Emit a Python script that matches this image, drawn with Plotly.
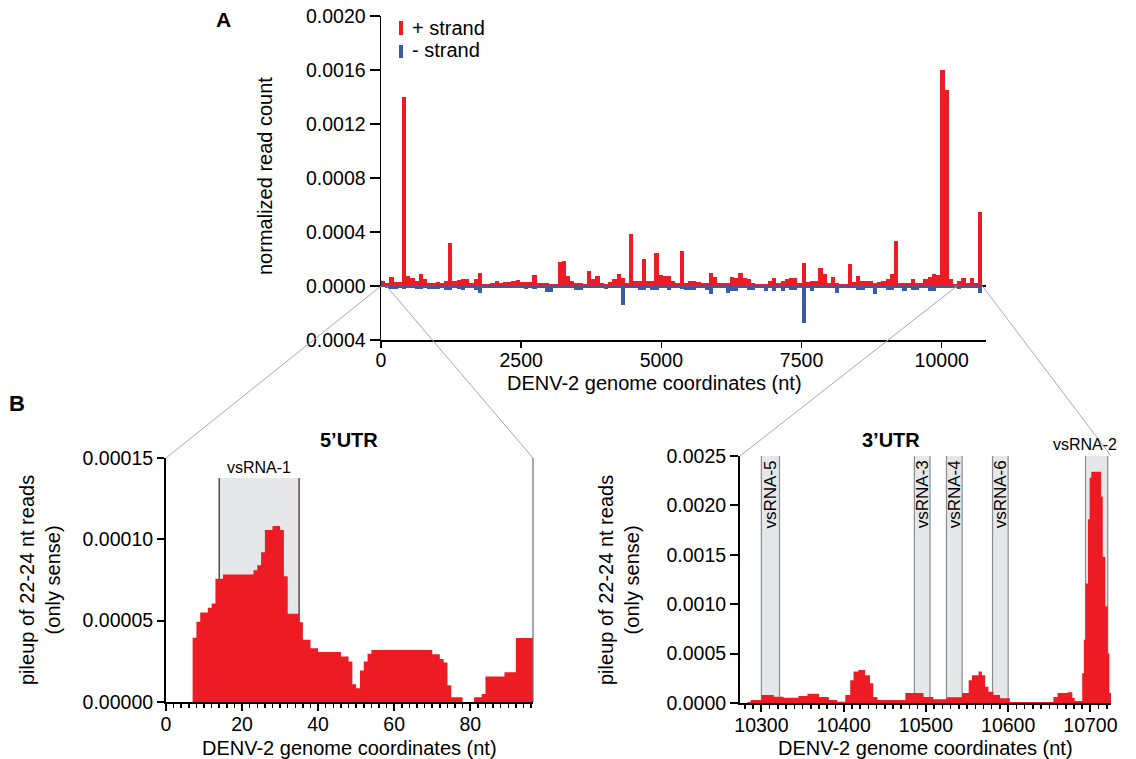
import numpy as np
import plotly.graph_objects as go

W, H = 1136, 759
PAGE_OFFSET = 0  # body margin removed by post_script below
RED = "#ed1c24"
BLUE = "#3b5ba9"
BOXGREY = "#e6e7e8"
FONT = "Liberation Sans, Arial, sans-serif"

# ---------------- Panel A: normalized read count, 75-nt bins ----------------
bin_width_nt = 75
# values in units of 1e-5
plus_strand_1e5 = [
    4, 2.4, 6.8, 2.9, 2.9, 140, 7.2, 6, 3.9, 9,
    4.9, 2.5, 2.5, 2.9, 2, 3.6, 32, 3.6, 4.2, 4.9,
    4.9, 2.5, 5.4, 10, 1.2, 1.2, 2.5, 4, 2.5, 2.9,
    2.9, 3.6, 4.2, 2.9, 2.9, 2.9, 8, 2, 2.5, 2.5,
    1.8, 1.2, 17.5, 18.3, 7.2, 3.6, 2, 2, 1.8, 11,
    4.9, 7.4, 2, 1.8, 2.9, 5.4, 8.6, 6, 2.5, 38.5,
    3.6, 4, 20, 4, 4, 24.7, 8, 7.4, 7.4, 4,
    2.5, 26, 2, 3.5, 3.5, 3, 2.5, 2, 10, 6.5,
    2, 2, 2.5, 6.5, 6, 10, 5.8, 5, 2.5, 1.8,
    1.2, 1.2, 4, 6, 2.5, 3.5, 5, 6, 6, 2,
    17, 3, 4, 4, 13, 9, 2.5, 6.5, 2, 1.2,
    1.2, 16, 3, 7.5, 4, 3.5, 3.5, 2.5, 3, 3.5,
    5.4, 9, 33, 2, 2.5, 2.5, 5.4, 2, 2.5, 5,
    6.5, 9, 8, 160, 145, 5, 1.2, 3.5, 5.8, 2.5,
    5.8, 2.5, 55,
]
minus_strand_1e5 = [
    -1, -1.2, -2, -2, -1.2, -2, -1.2, -1.2, -2.5, -2.5,
    -1.2, -2, -2, -2, -1.2, -3.2, -3.2, -1.2, -2.5, -3,
    -1.2, -1.5, -3, -5.4, -1.2, -1.2, -1.5, -1.2, -1.5, -1.2,
    -1.5, -1.2, -1.5, -1.2, -2.5, -1.2, -2.5, -1.2, -1.5, -4.4,
    -4.4, -1.5, -1.2, -1.5, -1.2, -1.5, -3, -3, -1.2, -1.5,
    -1.2, -1.5, -1.2, -2.5, -1.2, -1.5, -1.2, -14, -1.5, -1.2,
    -1.5, -3, -3, -1.2, -3, -3, -1.2, -1.5, -3, -1.2,
    -1.5, -2.5, -3, -3, -3, -1.2, -1.5, -3, -6, -1.5,
    -1.2, -1.5, -5, -4, -4, -1.2, -1.5, -3, -3, -1.2,
    -1.5, -3.5, -1.2, -4, -1.2, -3.5, -1.2, -3, -3, -1.2,
    -27.6, -1.5, -3.5, -1.2, -1.5, -1.2, -1.5, -1.2, -5, -1.2,
    -1.5, -1.2, -1.5, -3, -3, -1.2, -1.5, -6, -1.2, -1.5,
    -3, -3, -1.2, -1.5, -3.5, -1.2, -3, -3, -1.2, -1.5,
    -4, -4, -1.2, -1.5, -1.2, -1.5, -1.2, -2, -1.2, -1.5,
    -1.2, -1.5, -5.4,
]
genome_ticks = [0, 2500, 5000, 7500, 10000]
a_yticks = [-0.0004, 0.0, 0.0004, 0.0008, 0.0012, 0.0016, 0.0020]
a_yticktext = ["0.0004", "0.0000", "0.0004", "0.0008", "0.0012", "0.0016", "0.0020"]

# ---------------- Panel B left: 5'UTR pileup (units 1e-5) ----------------
utr5_pos = list(range(1, 97))
utr5_pileup_1e5 = [
    0, 0, 0, 0, 0, 0,
    3.95, 4.94, 5.5, 5.5, 5.8, 6.05, 7.57, 7.57,
    7.84, 7.84, 7.84, 7.84, 7.84, 7.84, 7.84, 7.84,
    8.1, 8.4, 9.2, 10.57, 10.57, 10.82, 10.82, 10.57, 7.73,
    5.43, 5.43, 5.43, 4.9, 3.83, 3.83, 3.31, 3.31,
    3.07, 3.07, 3.07, 3.07, 3.07, 3.07,
    2.8, 2.8, 2.49, 1.09, 0.85, 1.93, 2.49, 2.96,
    3.2, 3.2, 3.2, 3.2, 3.2, 3.2, 3.2, 3.2, 3.2, 3.2, 3.2, 3.2, 3.2, 3.2, 3.2, 3.2,
    2.94, 2.94, 2.65, 2.43, 1.03, 0.29, 0.29, 0.29,
    0, 0, 0, 0.29, 0.29, 0.49,
    1.56, 1.56, 1.56, 1.56, 1.56,
    1.83, 1.83, 1.83,
    3.93, 3.93, 3.93, 3.93, 3.93,
]
utr5_xticks = [0, 20, 40, 60, 80]
utr5_yticks = [0, 0.00005, 0.00010, 0.00015]
utr5_yticktext = ["0.00000", "0.00005", "0.00010", "0.00015"]
vsrna1_name, vsrna1_start, vsrna1_end, vsrna1_top = "vsRNA-1", 14, 35, 0.0001377

# ---------------- Panel B right: 3'UTR pileup (units 1e-4) ----------------
utr3_pos = [10274, 10283, 10287, 10300, 10315, 10327, 10345, 10356, 10370, 10382,
            10392, 10402, 10408, 10412, 10418, 10426, 10432, 10436, 10441, 10475,
            10497, 10509, 10525, 10544, 10552, 10556, 10564, 10568, 10572, 10576,
            10582, 10590, 10602, 10655, 10660, 10672, 10678, 10681, 10690, 10692,
            10694, 10697, 10699, 10701, 10713, 10715, 10718, 10721, 10723, 10725]
utr3_pileup_1e4 = [0, 0.1, 0.3, 0.8, 0.64, 0.54, 0.7, 0.94, 0.6, 0.3,
                   0.13, 0.8, 2.3, 3.2, 3.35, 2.8, 2.0, 0.6, 0.3, 1.0,
                   0.6, 0.37, 0.58, 1.0, 2.3, 2.8, 3.2, 2.8, 1.65, 1.15,
                   0.8, 0.47, 0.1, 0.6, 1.0, 1.1, 0.5, 0.2, 3.0, 6.4,
                   12.1, 18.6, 22.8, 23.4, 20.9, 14.8, 9.8, 5.0, 1.0, 0]
utr3_xticks = [10300, 10400, 10500, 10600, 10700]
utr3_yticks = [0, 0.0005, 0.0010, 0.0015, 0.0020, 0.0025]
utr3_yticktext = ["0.0000", "0.0005", "0.0010", "0.0015", "0.0020", "0.0025"]
utr3_vsrna_names = ["vsRNA-5", "vsRNA-3", "vsRNA-4", "vsRNA-6", "vsRNA-2"]
utr3_vsrna_start = [10300, 10486, 10525, 10581, 10694]
utr3_vsrna_end = [10322, 10505, 10544, 10600, 10721]

# ---------------- layout geometry (screen pixels -> paper) ----------------
def px(x):
    return (x - PAGE_OFFSET) / W

def py(y):
    return 1 - (y - PAGE_OFFSET) / H

A_dom_x = [px(381), px(986)]
A_dom_y = [py(340), py(16)]
A_rng_x = [0, 10790]
A_rng_y = [-0.0004, 0.0020]
L_dom_x = [px(166), px(533)]
L_dom_y = [py(702), py(458)]
L_rng_x = [0, 96.5]
L_rng_y = [0, 0.00015]
R_dom_x = [px(740), px(1111)]
R_dom_y = [py(703), py(456)]
R_rng_x = [10274, 10725]
R_rng_y = [0, 0.0025]


def to_paper(v, dom, rng):
    return dom[0] + (v - rng[0]) / (rng[1] - rng[0]) * (dom[1] - dom[0])


fig = go.Figure()

centers = np.arange(len(plus_strand_1e5)) * bin_width_nt + bin_width_nt / 2
fig.add_trace(go.Bar(x=centers, y=np.array(plus_strand_1e5) * 1e-5, width=bin_width_nt,
                     marker=dict(color=RED, line=dict(width=0)), xaxis="x", yaxis="y",
                     name="+ strand"))
fig.add_trace(go.Bar(x=centers, y=np.array(minus_strand_1e5) * 1e-5, width=bin_width_nt,
                     marker=dict(color=BLUE, line=dict(width=0)), xaxis="x", yaxis="y",
                     name="- strand"))

u5x = utr5_pos + [utr5_pos[-1] + 1]
u5y = [v * 1e-5 for v in utr5_pileup_1e5] + [utr5_pileup_1e5[-1] * 1e-5]
fig.add_trace(go.Scatter(x=u5x, y=u5y, mode="lines", line=dict(width=0, color=RED, shape="hv"),
                         fill="tozeroy", fillcolor=RED, xaxis="x2", yaxis="y2"))

fig.add_trace(go.Scatter(x=utr3_pos, y=[v * 1e-4 for v in utr3_pileup_1e4], mode="lines",
                         line=dict(width=0, color=RED, shape="hv"),
                         fill="tozeroy", fillcolor=RED, xaxis="x3", yaxis="y3"))

tickfont = dict(family=FONT, size=19.5, color="black")
common = dict(showgrid=False, showline=True, linecolor="black", ticks="outside",
              tickcolor="black", tickfont=tickfont, layer="above traces",
              autorange=False, fixedrange=True, automargin=False,
              ticklabeloverflow="allow")

layout_axes = dict(
    xaxis=dict(domain=A_dom_x, range=A_rng_x, anchor="y", tickvals=genome_ticks,
               ticktext=[str(t) for t in genome_ticks], linewidth=1.5, tickwidth=1.5,
               ticklen=6, ticklabelstandoff=-4, zeroline=False, **common),
    yaxis=dict(domain=A_dom_y, range=A_rng_y, anchor="x", tickvals=a_yticks,
               ticktext=a_yticktext, linewidth=1.5, tickwidth=1.5, ticklen=10,
               zeroline=True, zerolinecolor="black", zerolinewidth=1.5, **common),
    xaxis2=dict(domain=L_dom_x, range=L_rng_x, anchor="y2", tickvals=utr5_xticks,
                ticktext=[str(t) for t in utr5_xticks], linewidth=2, tickwidth=2, ticklen=7,
                ticklabelstandoff=-3, zeroline=False,
                minor=dict(dtick=2, tick0=0, ticks="outside", ticklen=4, tickwidth=1.5,
                           tickcolor="black"), **common),
    yaxis2=dict(domain=L_dom_y, range=L_rng_y, anchor="x2", tickvals=utr5_yticks,
                ticktext=utr5_yticktext, linewidth=2, tickwidth=2, ticklen=7,
                zeroline=False, **common),
    xaxis3=dict(domain=R_dom_x, range=R_rng_x, anchor="y3", tickvals=utr3_xticks,
                ticktext=[str(t) for t in utr3_xticks], linewidth=2, tickwidth=2, ticklen=7,
                ticklabelstandoff=-3, zeroline=False,
                minor=dict(dtick=10, tick0=10300, ticks="outside", ticklen=4, tickwidth=1.5,
                           tickcolor="black"), **common),
    yaxis3=dict(domain=R_dom_y, range=R_rng_y, anchor="x3", tickvals=utr3_yticks,
                ticktext=utr3_yticktext, linewidth=2, tickwidth=2, ticklen=8,
                zeroline=False, **common),
)

shapes = []
# vsRNA-1 box in 5'UTR panel
shapes.append(dict(type="rect", xref="x2", yref="y2", x0=vsrna1_start, x1=vsrna1_end,
                   y0=0, y1=vsrna1_top, fillcolor=BOXGREY, line=dict(width=0), layer="below"))
for xv in (vsrna1_start, vsrna1_end):
    shapes.append(dict(type="line", xref="x2", yref="y2", x0=xv, x1=xv, y0=0, y1=vsrna1_top,
                       line=dict(color="#5a4a42", width=1.5), layer="below"))
# right border of 5'UTR panel
shapes.append(dict(type="line", xref="x2 domain", yref="y2 domain", x0=1, x1=1, y0=0, y1=1,
                   line=dict(color="#6d6e71", width=1.2)))
# 3'UTR boxes
for s, e in zip(utr3_vsrna_start, utr3_vsrna_end):
    shapes.append(dict(type="rect", xref="x3", yref="y3 domain", x0=s, x1=e, y0=0, y1=1,
                       fillcolor=BOXGREY, line=dict(width=0), layer="below"))
    for xv in (s, e):
        shapes.append(dict(type="line", xref="x3", yref="y3 domain", x0=xv, x1=xv, y0=0, y1=1,
                           line=dict(color="#8a8c8e", width=1.2), layer="below"))

# zoom connectors from panel A to panels B
conn = [
    ((L_rng_x[0], 0), (L_rng_x[0], L_dom_x, L_rng_x, L_dom_y)),
    ((utr5_pos[-1], 0), (L_rng_x[1], L_dom_x, L_rng_x, L_dom_y)),
    ((R_rng_x[0], 0), (R_rng_x[0], R_dom_x, R_rng_x, R_dom_y)),
    ((R_rng_x[1], 0), (R_rng_x[1], R_dom_x, R_rng_x, R_dom_y)),
]
for (ax_, ay_), (bx_, bdom, brng, bdomy) in conn:
    x0 = to_paper(ax_, A_dom_x, A_rng_x)
    y0 = to_paper(ay_, A_dom_y, A_rng_y)
    x1 = to_paper(bx_, bdom, brng)
    y1 = bdomy[1]
    shapes.append(dict(type="line", xref="paper", yref="paper", x0=x0, y0=y0, x1=x1, y1=y1,
                       line=dict(color="#a7a9ac", width=1)))

# legend markers (paper coordinates)
shapes.append(dict(type="rect", xref="paper", yref="paper", x0=px(399), x1=px(403),
                   y0=py(35), y1=py(21), fillcolor=RED, line=dict(width=0)))
shapes.append(dict(type="rect", xref="paper", yref="paper", x0=px(399), x1=px(403),
                   y0=py(58), y1=py(45), fillcolor=BLUE, line=dict(width=0)))

ann = []

def text(x, y, t, size=20, bold=False, angle=0, xanchor="center", yanchor="middle",
         xref="paper", yref="paper", yshift=0, xshift=0):
    ann.append(dict(x=x, y=y, xref=xref, yref=yref, text=f"<b>{t}</b>" if bold else t,
                    showarrow=False, textangle=angle, xanchor=xanchor, yanchor=yanchor,
                    yshift=yshift, xshift=xshift,
                    font=dict(family=FONT, size=size, color="black")))

text(px(410), py(28), "+ strand", xanchor="left")
text(px(410), py(50), "- strand", xanchor="left")
text(px(223), py(20), "A", size=21, bold=True)
text(px(17), py(404), "B", size=22, bold=True)
text(px(265), py(176), "normalized read count", angle=-90)
text(px(654), py(383), "DENV-2 genome coordinates (nt)")
text(px(349.5), py(748), "DENV-2 genome coordinates (nt)")
text(px(925), py(748), "DENV-2 genome coordinates (nt)")
text(px(349), py(440), "5’UTR", bold=True)
text(px(891), py(440), "3’UTR", bold=True)
text(px(40), py(580), "pileup of 22-24 nt reads<br>(only sense)", angle=-90)
text(px(619), py(580), "pileup of 22-24 nt reads<br>(only sense)", angle=-90)

# vsRNA labels
text((vsrna1_start + vsrna1_end) / 2, vsrna1_top, vsrna1_name, size=16,
     xref="x2", yref="y2", yanchor="bottom", yshift=0)
for name, s, e in zip(utr3_vsrna_names, utr3_vsrna_start, utr3_vsrna_end):
    if name == "vsRNA-2":
        text((s + e) / 2, 1, name, size=16, xref="x3", yref="y3 domain", yanchor="bottom",
             yshift=1, xshift=-12)
    else:
        text((s + e) / 2, 1, name, size=17, angle=-90, xref="x3", yref="y3 domain",
             yanchor="top", yshift=-2)

fig.update_layout(
    width=W, height=H, margin=dict(l=0, r=0, t=0, b=0, autoexpand=False),
    paper_bgcolor="white", plot_bgcolor="rgba(0,0,0,0)",
    font=dict(family=FONT, size=20, color="black"),
    barmode="overlay", bargap=0, showlegend=False,
    shapes=shapes, annotations=ann, **layout_axes,
)

fig.write_html("out.html",
               config={"displayModeBar": False, "staticPlot": True},
               post_script="document.body.style.margin='0px';"
                           "document.body.style.overflow='hidden';")
